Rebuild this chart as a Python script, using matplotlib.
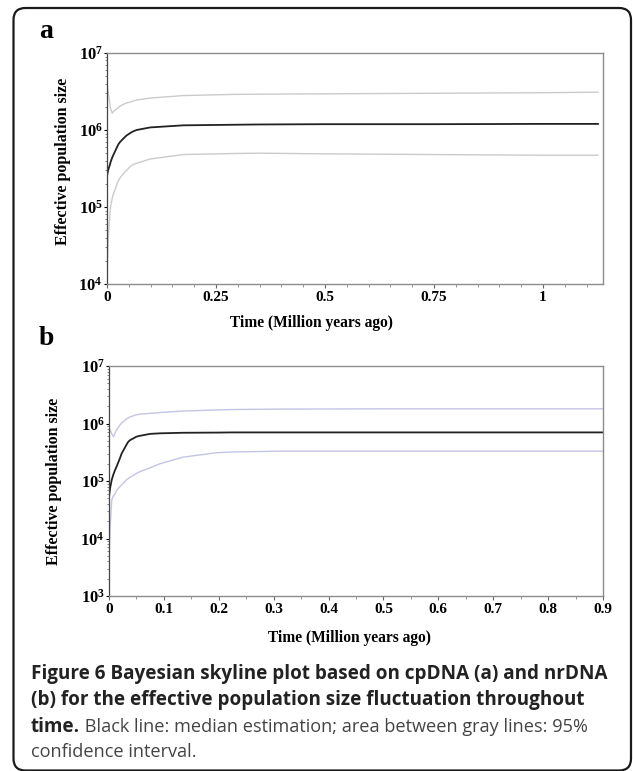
import math
import matplotlib
matplotlib.use("Agg")
import matplotlib.pyplot as plt
from matplotlib.patches import FancyBboxPatch
from matplotlib.ticker import FixedLocator, MultipleLocator, FuncFormatter, LogLocator, NullFormatter

plt.rcParams['mathtext.fontset'] = 'custom'
plt.rcParams['mathtext.rm'] = 'Liberation Serif:bold'
plt.rcParams['mathtext.bf'] = 'Liberation Serif:bold'

# --- panel a: cpDNA skyline (time in Myr, Ne) ---
time_a = [0, 0.002, 0.004, 0.007, 0.008, 0.012, 0.015, 0.026, 0.030, 0.041, 0.045, 0.053,
          0.060, 0.068, 0.099, 0.175, 0.29, 0.35, 0.5, 0.75, 1.0, 1.126]
median_a = [2.5e5, 2.9e5, 3.2e5, 3.6e5, 3.8e5, 4.4e5, 4.8e5, 6.5e5, 7.0e5, 8.1e5, 8.5e5, 9.1e5,
            9.6e5, 1.0e6, 1.08e6, 1.15e6, 1.17e6, 1.18e6, 1.19e6, 1.19e6, 1.2e6, 1.2e6]
upper_a = [4.0e6, 3.3e6, 2.7e6, 2.1e6, 1.9e6, 1.65e6, 1.75e6, 1.95e6, 2.05e6, 2.2e6, 2.25e6, 2.3e6,
           2.38e6, 2.45e6, 2.6e6, 2.8e6, 2.9e6, 2.92e6, 2.95e6, 3.0e6, 3.05e6, 3.1e6]
lower_a = [1.2e4, 3.0e4, 5.0e4, 8.5e4, 1.0e5, 1.3e5, 1.5e5, 2.2e5, 2.4e5, 2.85e5, 3.0e5, 3.35e5,
           3.55e5, 3.7e5, 4.2e5, 4.8e5, 4.95e5, 5.0e5, 4.9e5, 4.8e5, 4.7e5, 4.7e5]

# --- panel b: nrDNA skyline ---
time_b = [0, 0.002, 0.005, 0.008, 0.011, 0.014, 0.02, 0.023, 0.032, 0.035, 0.038, 0.05, 0.056,
          0.075, 0.093, 0.135, 0.196, 0.226, 0.31, 0.5, 0.7, 0.9]
median_b = [5.3e4, 7.5e4, 1.05e5, 1.3e5, 1.55e5, 1.8e5, 2.5e5, 3.0e5, 4.3e5, 4.8e5, 5.1e5, 5.9e5, 6.1e5,
            6.6e5, 6.75e5, 6.9e5, 6.95e5, 7.0e5, 7.0e5, 7.0e5, 7.0e5, 7.0e5]
upper_b = [7.2e5, 7.7e5, 6.6e5, 5.9e5, 6.8e5, 7.8e5, 9.4e5, 1.02e6, 1.2e6, 1.25e6, 1.3e6, 1.42e6, 1.45e6,
           1.5e6, 1.55e6, 1.65e6, 1.72e6, 1.75e6, 1.78e6, 1.8e6, 1.8e6, 1.8e6]
lower_b = [4.8e3, 1.5e4, 4.7e4, 5.5e4, 6.0e4, 6.9e4, 8.0e4, 8.5e4, 1.05e5, 1.1e5, 1.15e5, 1.35e5, 1.45e5,
           1.7e5, 2.0e5, 2.6e5, 3.1e5, 3.2e5, 3.3e5, 3.3e5, 3.3e5, 3.3e5]

xticks_a = [0, 0.25, 0.5, 0.75, 1]
xticklabels_a = ['0', '0.25', '0.5', '0.75', '1']
xticks_b = [0, 0.1, 0.2, 0.3, 0.4, 0.5, 0.6, 0.7, 0.8, 0.9]
xticklabels_b = ['0', '0.1', '0.2', '0.3', '0.4', '0.5', '0.6', '0.7', '0.8', '0.9']

W, H = 633, 771
fig = plt.figure(figsize=(W / 100, H / 100), dpi=100)

# rounded frame around the figure
frame = FancyBboxPatch((13.5, 0.5), 617.5, 762.5, boxstyle="round,pad=0,rounding_size=12",
                       transform=None, fill=False, edgecolor='#1a1a1a', linewidth=1.6)
fig.patches.append(frame)

serif = 'Liberation Serif'


def px_axes(left, right, top, bottom):
    return [left / W, 1 - bottom / H, (right - left) / W, (bottom - top) / H]


def style_axes(ax, xlim, ylim, yticks, xticks, xticklabels, bound_color, t, med, up, lo,
               ylab_xy, xlab_xy):
    ax.plot(t, up, color=bound_color, lw=1.0)
    ax.plot(t, lo, color=bound_color, lw=1.0)
    ax.plot(t, med, color='#222222', lw=1.3)
    ax.set_yscale('log')
    ax.set_xlim(*xlim)
    ax.set_ylim(*ylim)
    ax.yaxis.set_major_locator(FixedLocator(yticks))
    ax.yaxis.set_major_formatter(FuncFormatter(lambda v, p: r'$\mathbf{10^{%d}}$' % round(math.log10(v))))
    ax.yaxis.set_minor_locator(LogLocator(base=10, subs=range(2, 10)))
    ax.yaxis.set_minor_formatter(NullFormatter())
    ax.set_xticks(xticks)
    ax.set_xticklabels(xticklabels, fontfamily=serif, fontweight='bold', fontsize=11)
    ax.xaxis.set_minor_locator(MultipleLocator(0.05))
    ax.tick_params(axis='x', which='major', direction='out', length=3, width=0.8, pad=2, color='#666666')
    ax.tick_params(axis='x', which='minor', direction='out', length=2, width=0.6, color='#888888')
    ax.tick_params(axis='y', which='major', direction='out', length=2, width=0.8, pad=1, labelsize=12)
    ax.tick_params(axis='y', which='minor', direction='out', length=1.5, width=0.5, color='#555555')
    for side in ['top', 'right', 'bottom']:
        ax.spines[side].set_color('#8c8c8c')
        ax.spines[side].set_linewidth(1.0)
    ax.spines['left'].set_color('#444444')
    ax.spines['left'].set_linewidth(0.9)
    ax.set_ylabel('Effective population size', fontfamily=serif, fontweight='bold', fontsize=11.5)
    ax.yaxis.set_label_coords(*ylab_xy)
    ax.set_xlabel('Time (Million years ago)', fontfamily=serif, fontweight='bold', fontsize=11.2)
    ax.xaxis.set_label_coords(*xlab_xy)


ax_a = fig.add_axes(px_axes(107, 603, 53, 284))
style_axes(ax_a, (0, 1.1376), (1e4, 1e7), [1e4, 1e5, 1e6, 1e7], xticks_a, xticklabels_a,
           '#cbcbcb', time_a, median_a, upper_a, lower_a, (-0.073, 0.53), (0.412, -0.136))

ax_b = fig.add_axes(px_axes(109, 603, 366, 596))
style_axes(ax_b, (0, 0.9), (1e3, 1e7), [1e3, 1e4, 1e5, 1e6, 1e7], xticks_b, xticklabels_b,
           '#c4c4e6', time_b, median_b, upper_b, lower_b, (-0.095, 0.5), (0.487, -0.15))

# panel letters
fig.text(39 / W, 1 - 38 / H, 'a', fontfamily=serif, fontweight='bold', fontsize=20, va='baseline')
fig.text(39 / W, 1 - 345 / H, 'b', fontfamily=serif, fontweight='bold', fontsize=20, va='baseline')

# caption
bold_kw = dict(fontfamily='Open Sans', fontsize=13.6, fontweight='bold', color='#222222',
               ha='left', va='baseline')
reg_kw = dict(fontfamily='Open Sans', fontsize=13.1, color='#444444', ha='left', va='baseline')
fig.text(31 / W, 1 - 679 / H, 'Figure 6 Bayesian skyline plot based on cpDNA (a) and nrDNA', **bold_kw)
fig.text(31 / W, 1 - 705 / H, '(b) for the effective population size fluctuation throughout', **bold_kw)
t3 = fig.text(31 / W, 1 - 732 / H, 'time.', **bold_kw)
fig.text(31 / W, 1 - 757 / H, 'confidence interval.', **reg_kw)
renderer = fig.canvas.get_renderer()
bb = t3.get_window_extent(renderer)
fig.text(bb.x1 / W, 1 - 732 / H, ' Black line: median estimation; area between gray lines: 95%', **reg_kw)

fig.savefig('out.png', dpi=100)
